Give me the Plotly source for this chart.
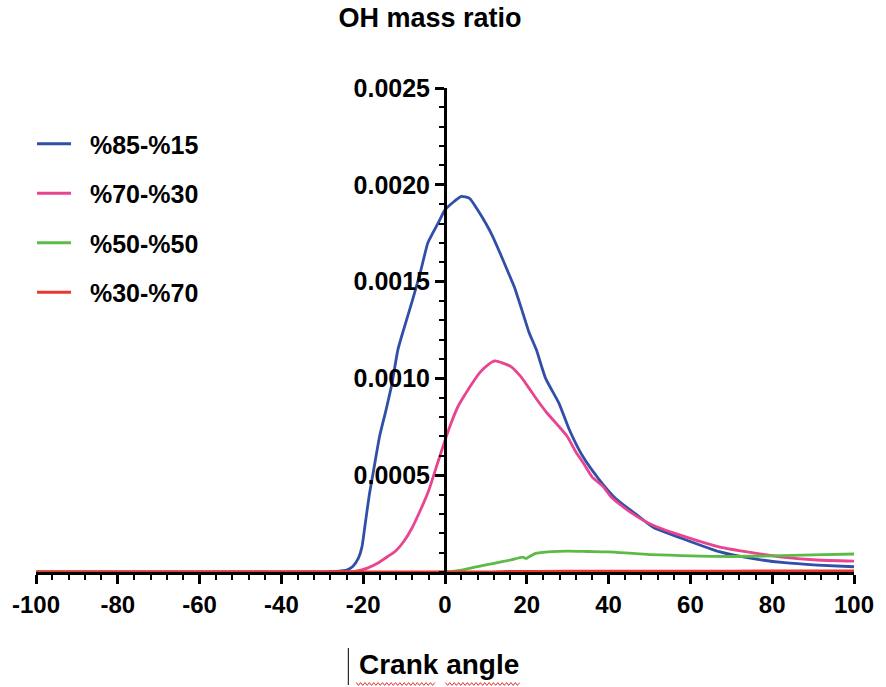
import plotly.graph_objects as go

# Crank angle (deg) and OH mass ratio for each fuel blend
blue_x = [-100, -30, -27, -24, -22.5, -21.2, -20.3, -19.5, -18.5, -17.5, -16, -14.5, -13, -11.5,
          -10, -8, -6, -4.2, -3, -1.5, 0, 2, 4, 6, 8, 10, 11.5, 13.4, 15, 17, 19, 20.5, 22.3,
          24.6, 27.9, 30.3, 33.6, 37.6, 41.7, 46.6, 51, 59, 67, 75, 83, 91, 100]
blue_y = [0, 0, 0.000003, 0.00001, 0.00003, 0.00007, 0.00013, 0.00025, 0.00040, 0.00052,
          0.00070, 0.00083, 0.00097, 0.00115, 0.00126, 0.00140, 0.00155, 0.00170, 0.00175,
          0.00181, 0.00187, 0.00191, 0.00194, 0.00193, 0.00187, 0.00180, 0.00174, 0.00165,
          0.00157, 0.00147, 0.00134, 0.00124, 0.00115, 0.00100, 0.00087, 0.00074, 0.00060,
          0.00048, 0.00038, 0.00030, 0.00023, 0.000165, 0.000105, 0.00007, 0.000048,
          0.000036, 0.000027]

pink_x = [-100, -25, -22, -19, -16.5, -14, -12, -10, -8, -6, -4, -2, 0, 1.5, 3.3, 5, 6.5, 8.5,
          10.5, 12.2, 14, 16.2, 18.5, 20.2, 22.5, 25, 27.5, 29.9, 32, 33.9, 36, 38.7, 40.5,
          42.7, 46.7, 51, 59, 67, 75, 83, 91, 100]
pink_y = [0, 0, 0.000003, 0.00002, 0.000045, 0.00008, 0.00011, 0.00016, 0.00023, 0.00032,
          0.00042, 0.00055, 0.00068, 0.00077, 0.00086, 0.00092, 0.00097, 0.00103, 0.00107,
          0.00109, 0.00108, 0.00106, 0.00101, 0.00096, 0.00089, 0.00082, 0.00076, 0.00070,
          0.00062, 0.00056, 0.00049, 0.00044, 0.00039, 0.00035, 0.00029, 0.00024, 0.00018,
          0.00013, 0.00010, 0.000076, 0.000062, 0.000056]

green_x = [-100, 0, 4, 8, 12, 16, 19, 19.8, 22, 26, 30, 35, 40, 45, 50, 55, 60, 70, 80, 90, 100]
green_y = [0, 0, 0.00001, 0.000028, 0.000045, 0.000062, 0.000077, 0.00007, 0.000095, 0.000105,
           0.000108, 0.000106, 0.000104, 0.000097, 0.00009, 0.000087, 0.000083, 0.00008,
           0.000083, 0.000088, 0.000093]

red_x = [-100, 10, 15, 30, 50, 70, 90, 100]
red_y = [0, 0, 0.000003, 0.000004, 0.000005, 0.000005, 0.000006, 0.000006]

series_names = ["%85-%15", "%70-%30", "%50-%50", "%30-%70"]
series_colors = ["#2F4FA8", "#E8448F", "#5CBB46", "#E8392E"]

x_ticks = [-100, -80, -60, -40, -20, 0, 20, 40, 60, 80, 100]
y_ticks = [0.0005, 0.0010, 0.0015, 0.0020, 0.0025]

FONT = "Liberation Sans, Arial, sans-serif"

fig = go.Figure()
for i, (xs, ys) in enumerate([(blue_x, blue_y), (pink_x, pink_y), (green_x, green_y), (red_x, red_y)]):
    fig.add_trace(go.Scatter(
        x=xs, y=ys, mode="lines", name="\u00a0\u00a0" + series_names[i], legendgroup=str(i),
        line=dict(color=series_colors[i], width=2.8, shape="spline", smoothing=0.5),
    ))

W, H = 886, 687
L, R, T, B = 34, 27, 88, 115
pw, ph = W - L - R, H - T - B


def px_x(p):
    return (p - L) / pw


def px_y(p):
    return (H - B - p) / ph


# Text cursor beside the axis caption
shapes = [dict(type="line", xref="paper", yref="paper",
               x0=px_x(349), x1=px_x(349), y0=px_y(648), y1=px_y(685),
               line=dict(color="black", width=1))]


def wavy(x_start, x_end, y_mid):
    pts = []
    k = 0
    p = x_start
    while p <= x_end:
        yy = y_mid + (1.4 if k % 2 else -1.4)
        pts.append(f"{px_x(p):.5f},{px_y(yy):.5f}")
        p += 2.2
        k += 1
    return "M" + " L".join(pts)


# Spell-check underline under the caption words
for a, b in [(357, 437), (447, 523)]:
    shapes.append(dict(type="path", xref="paper", yref="paper", path=wavy(a, b, 684),
                       line=dict(color="#E03030", width=1)))

annotations = [dict(text="<b>Crank angle</b>", xref="paper", yref="paper",
                    x=px_x(440), y=px_y(664), xanchor="center", yanchor="middle",
                    showarrow=False, font=dict(size=28, family=FONT, color="black"))]

fig.update_layout(
    width=W, height=H,
    margin=dict(l=L, r=R, t=T, b=B),
    paper_bgcolor="white", plot_bgcolor="white",
    font=dict(family=FONT, color="black"),
    title=dict(text="<b>OH mass ratio</b>", font=dict(size=27, family=FONT, color="black"),
               xref="container", x=430 / W, xanchor="center",
               yref="container", y=1 - 8 / H, yanchor="top"),
    showlegend=True,
    legend=dict(x=px_x(30), xref="paper", xanchor="left",
                y=px_y(121), yref="paper", yanchor="top",
                font=dict(size=25, family=FONT, color="black", weight="bold"),
                itemwidth=34, tracegroupgap=14, bgcolor="rgba(0,0,0,0)"),
    xaxis=dict(range=[-100, 100], showgrid=False, zeroline=False,
               showline=True, linecolor="black", linewidth=3, layer="below traces",
               ticks="outside", ticklen=9, tickwidth=2.5, tickcolor="black",
               tickvals=x_ticks, ticktext=[str(v) for v in x_ticks],
               tickfont=dict(size=24, family=FONT, color="black", weight="bold"),
               minor=dict(dtick=4, tick0=-100, ticks="outside", ticklen=5, tickwidth=2,
                          tickcolor="black", showgrid=False)),
    yaxis=dict(range=[0, 0.0025], showgrid=False, zeroline=False,
               anchor="free", position=0.5,
               showline=True, linecolor="black", linewidth=3,
               ticks="outside", ticklen=9, tickwidth=2.5, tickcolor="black",
               tickvals=y_ticks, ticktext=[f"{v:.4f}" for v in y_ticks],
               tickfont=dict(size=25, family=FONT, color="black", weight="bold"),
               minor=dict(dtick=0.0001, tick0=0, ticks="outside", ticklen=5, tickwidth=2,
                          tickcolor="black", showgrid=False)),
    shapes=shapes,
    annotations=annotations,
)

fig.write_html("out.html")
